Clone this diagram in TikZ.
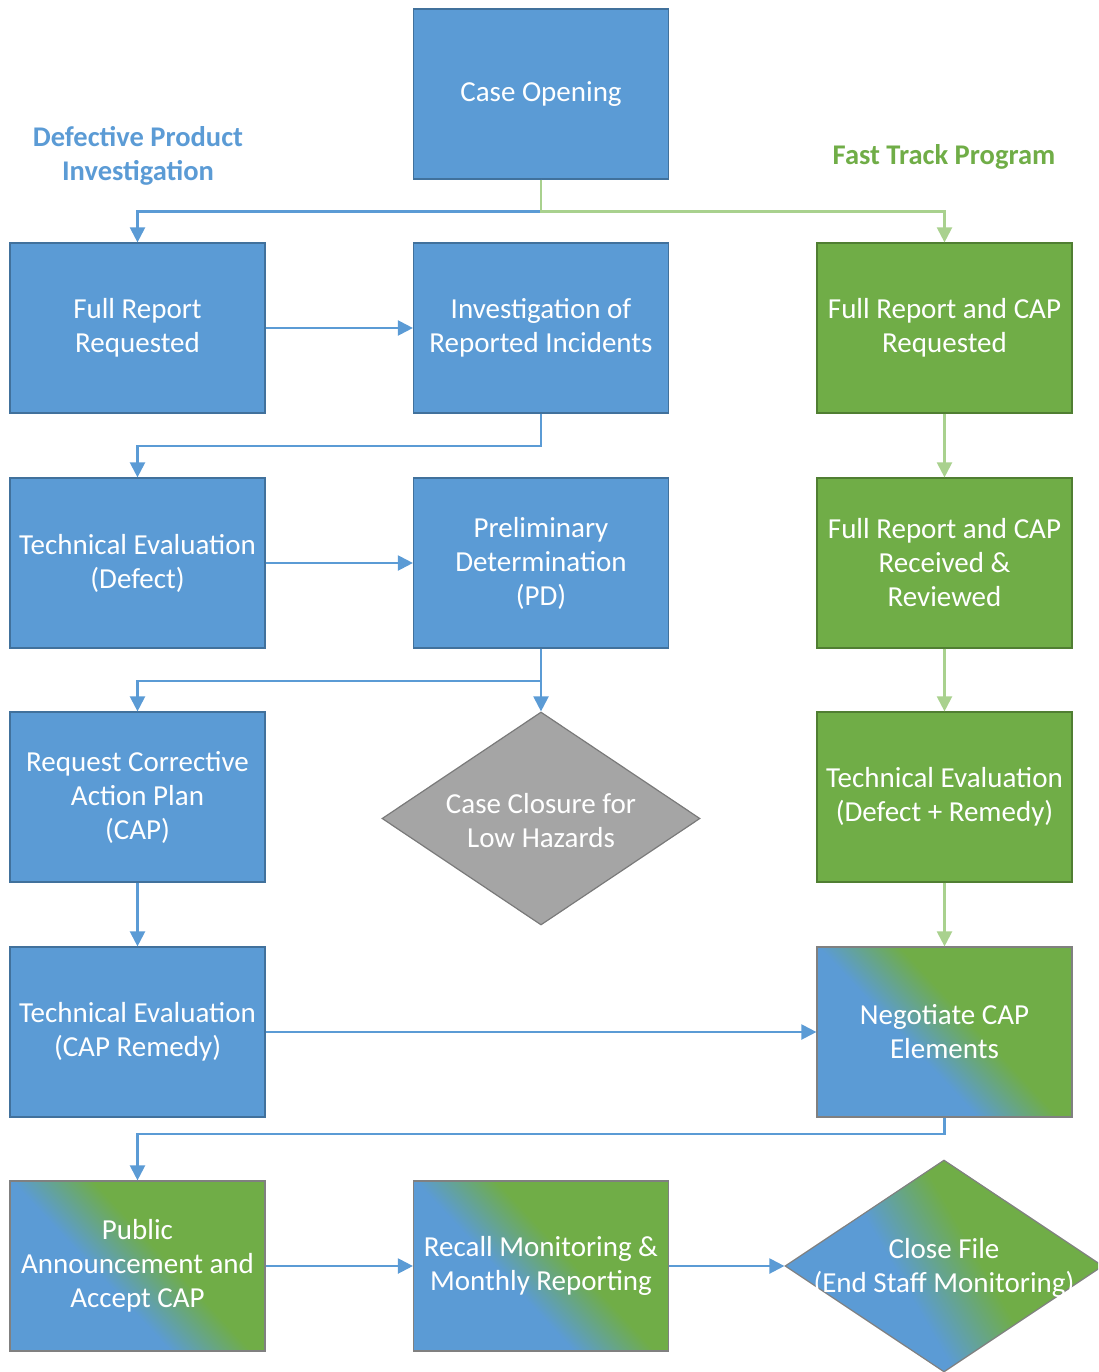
\documentclass[tikz,border=0pt]{standalone}
\usepackage{fontspec}
\setmainfont{Carlito}
\usetikzlibrary{arrows.meta,shapes.geometric}
\definecolor{cblue}{HTML}{5B9BD5}
\definecolor{cbluedark}{HTML}{41719C}
\definecolor{cgreen}{HTML}{70AD47}
\definecolor{cgreendark}{HTML}{507E32}
\definecolor{cgray}{HTML}{A5A5A5}
\definecolor{cgraydark}{HTML}{7A7A7A}
\definecolor{clgreen}{HTML}{A9D18E}
\definecolor{cmixborder}{HTML}{808080}
\pgfdeclarehorizontalshading{bluegreen}{100bp}{color(0bp)=(cblue); color(42bp)=(cblue); color(56bp)=(cgreen); color(100bp)=(cgreen)}
\begin{document}
\begin{tikzpicture}[x=1pt,y=-1pt,
  box/.style={rectangle, minimum width=255pt, minimum height=170pt, inner sep=0pt,
    text=white, align=center, font=\fontsize{29}{34}\selectfont, line width=1.2pt},
  bbox/.style={box, fill=cblue, draw=cbluedark},
  gbox/.style={box, fill=cgreen, draw=cgreendark},
  mbox/.style={box, shading=bluegreen, shading angle=43, draw=cmixborder},
  dia/.style={diamond, aspect=1.5, inner sep=0pt, line width=1.2pt},
  dtext/.style={text=white, align=center, font=\fontsize{29}{34}\selectfont, inner sep=0pt},
  conn/.style={line width=2.2pt, -{Triangle[length=15pt,width=15pt]}},
  bline/.style={conn, draw=cblue},
  gline/.style={conn, draw=clgreen},
  title/.style={font=\fontsize{28.5}{34}\selectfont\bfseries, align=center}
]
\useasboundingbox (0,0) rectangle (1098,1372);
\clip (0,0) rectangle (1098,1372);

% titles
\node[title, text=cblue] (t1) at (138,156) {Defective Product\\Investigation};
\node[title, text=cgreen] (t2) at (944,157) {Fast Track Program};

% boxes
\node[bbox] (open) at (541,94) {Case Opening};
\node[bbox] (frr) at (137.5,328) {Full Report\\Requested};
\node[bbox] (inv) at (541,328) {Investigation of\\Reported Incidents};
\node[gbox] (frcap) at (944.5,328) {Full Report and CAP\\Requested};
\node[bbox] (ted) at (137.5,563) {Technical Evaluation\\(Defect)};
\node[bbox] (pd) at (541,563) {Preliminary\\Determination\\(PD)};
\node[gbox] (frrec) at (944.5,563) {Full Report and CAP\\Received \&\\Reviewed};
\node[bbox] (rcap) at (137.5,797) {Request Corrective\\Action Plan\\(CAP)};
\node[gbox] (tedr) at (944.5,797) {Technical Evaluation\\(Defect + Remedy)};
\node[dia, fill=cgray, draw=cgraydark, minimum width=318pt, minimum height=213pt] (closure) at (541,818.5) {};
\node[dtext] (closuretext) at (541,821) {Case Closure for\\Low Hazards};
\node[bbox] (tecap) at (137.5,1032) {Technical Evaluation\\(CAP Remedy)};
\node[mbox] (neg) at (944.5,1032) {Negotiate CAP\\Elements};
\node[mbox] (pub) at (137.5,1266) {Public\\Announcement and\\Accept CAP};
\node[mbox] (rec) at (541,1266) {Recall Monitoring \&\\Monthly Reporting};
\node[dia, shading=bluegreen, shading angle=30, draw=cmixborder, minimum width=318pt, minimum height=212pt] (close) at (944,1266) {};
\node[dtext] (closetext) at (944,1268) {Close File\\(End Staff Monitoring)};

% connectors
\draw[bline] (open.south) -- ++(0,32) -| (frr.north);
\draw[gline] (open.south) -- ++(0,32) -| (frcap.north);
\draw[bline] (frr.east) -- (inv.west);
\draw[bline] (inv.south) -- ++(0,32) -| (ted.north);
\draw[bline] (ted.east) -- (pd.west);
\draw[bline] (pd.south) -- ++(0,32) -| (rcap.north);
\draw[bline] (pd.south) -- (closure.north);
\draw[bline] (rcap.south) -- (tecap.north);
\draw[bline] (tecap.east) -- (neg.west);
\draw[bline] (neg.south) -- ++(0,16) -| (pub.north);
\draw[bline] (pub.east) -- (rec.west);
\draw[bline] (rec.east) -- (close.west);
\draw[gline] (frcap.south) -- (frrec.north);
\draw[gline] (frrec.south) -- (tedr.north);
\draw[gline] (tedr.south) -- (neg.north);
\end{tikzpicture}
\end{document}
